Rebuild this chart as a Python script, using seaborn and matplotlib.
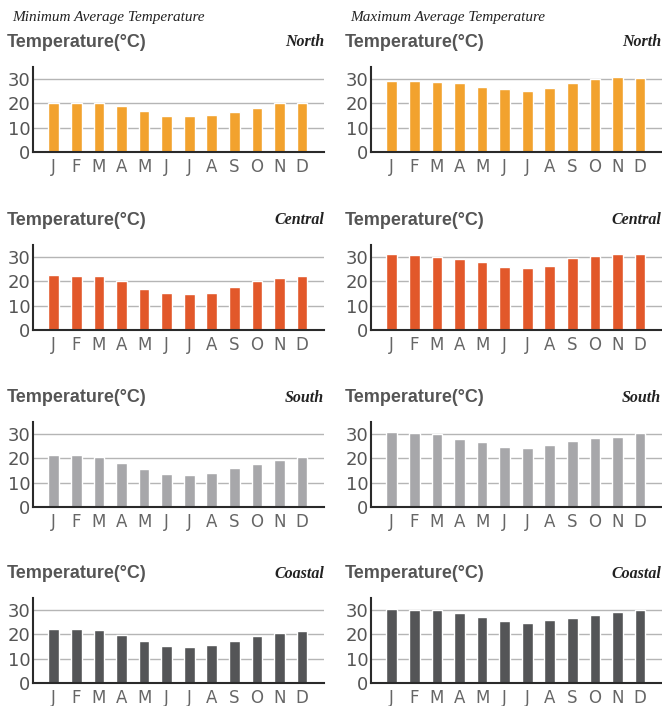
import matplotlib
matplotlib.use("Agg")
import matplotlib.pyplot as plt
import seaborn as sns
import pandas as pd
import numpy as np

# month categories and the single-letter tick labels
months = ['Jan', 'Feb', 'Mar', 'Apr', 'May', 'Jun', 'Jul', 'Aug', 'Sep', 'Oct', 'Nov', 'Dec']
month_letters = ['J', 'F', 'M', 'A', 'M', 'J', 'J', 'A', 'S', 'O', 'N', 'D']
regions = ['North', 'Central', 'South', 'Coastal']
y_ticks = [0, 10, 20, 30]

# minimum average temperature (°C)
min_north = [20.0, 20.0, 20.0, 19.0, 17.0, 14.9, 14.9, 15.3, 16.6, 18.2, 20.0, 20.0]
min_central = [22.7, 22.3, 22.3, 20.2, 16.9, 15.3, 14.9, 15.3, 17.7, 20.2, 21.5, 22.3]
min_south = [21.6, 21.6, 20.7, 18.3, 15.8, 13.4, 13.0, 14.2, 16.2, 17.9, 19.5, 20.7]
min_coastal = [22.3, 22.3, 21.9, 19.8, 17.3, 15.3, 14.9, 15.7, 17.3, 19.4, 20.6, 21.5]

# maximum average temperature (°C)
max_north = [29.3, 29.3, 28.9, 28.5, 26.8, 26.0, 25.2, 26.4, 28.5, 30.1, 31.0, 30.5]
max_central = [31.4, 31.0, 30.1, 29.3, 28.1, 26.0, 25.6, 26.4, 29.7, 30.5, 31.4, 31.4]
max_south = [31.0, 30.5, 30.1, 28.1, 26.9, 24.8, 24.4, 25.6, 27.3, 28.5, 28.9, 30.5]
max_coastal = [30.5, 30.1, 30.1, 28.9, 27.2, 25.6, 24.8, 26.0, 26.8, 28.1, 29.3, 30.1]

min_data = [min_north, min_central, min_south, min_coastal]
max_data = [max_north, max_central, max_south, max_coastal]

colors = {
    'North': '#F2A22E',
    'Central': '#E2582A',
    'South': '#A7A7AA',
    'Coastal': '#545557',
}

rows = []
for kind, block in [('min', min_data), ('max', max_data)]:
    for region, vals in zip(regions, block):
        for m, v in zip(months, vals):
            rows.append({'kind': kind, 'region': region, 'month': m, 'temp': v})
df = pd.DataFrame(rows)

sns.set_theme(style='white')
plt.rcParams['font.family'] = ['Liberation Sans', 'DejaVu Sans']

W, H = 662, 706
fig = plt.figure(figsize=(W / 100, H / 100), dpi=100)

# pixel layout
col_left = {'min': 33, 'max': 371}
col_width = 291
row_bottom = [152, 330, 507, 683]
ax_h = 85

header_x = {'min': 7, 'max': 345}
region_right = {'min': 324, 'max': 661}
title_x = {'min': 12, 'max': 350}
titles = {'min': 'Minimum Average Temperature', 'max': 'Maximum Average Temperature'}

serif = ['Liberation Serif', 'DejaVu Serif']

for kind in ['min', 'max']:
    fig.text(title_x[kind] / W, 1 - 18 / H, titles[kind], family=serif, style='italic',
             fontsize=11, color='#222222', ha='left', va='center')
    for i, region in enumerate(regions):
        b = row_bottom[i]
        ax = fig.add_axes([col_left[kind] / W, 1 - b / H, col_width / W, ax_h / H])
        sub = df[(df['kind'] == kind) & (df['region'] == region)]
        sns.barplot(data=sub, x='month', y='temp', order=months, color=colors[region],
                    width=0.47, saturation=1, ax=ax, zorder=3)
        ax.set_ylim(0, 35)
        ax.set_xlim(-0.92, 11.97)
        ax.set_yticks(y_ticks)
        ax.set_xticks(range(len(months)))
        ax.set_xticklabels(month_letters)
        ax.set_xlabel('')
        ax.set_ylabel('')
        for t in y_ticks[1:]:
            ax.axhline(t, color='#b5b5b5', lw=1, zorder=1)
        for s in ['top', 'right']:
            ax.spines[s].set_visible(False)
        for s in ['left', 'bottom']:
            ax.spines[s].set_color('#2a2a2a')
            ax.spines[s].set_linewidth(1.5)
        ax.spines['bottom'].set_zorder(4)
        ax.tick_params(axis='y', length=0, pad=2, labelcolor='#555555')
        ax.tick_params(axis='x', length=0, pad=4, labelcolor='#666666')
        for lab in ax.get_yticklabels():
            lab.set_family('DejaVu Sans')
            lab.set_fontsize(13)
        for lab in ax.get_xticklabels():
            lab.set_family('DejaVu Sans')
            lab.set_fontsize(12)

        top = b - ax_h
        hy = 1 - (top - 24.5) / H
        fig.text(header_x[kind] / W, hy, 'Temperature(°C)', fontsize=13, fontweight='bold',
                 color='#555555', ha='left', va='center')
        fig.text(region_right[kind] / W, hy, region, family=serif, style='italic',
                 fontweight='bold', fontsize=11.5, color='#222222', ha='right', va='center')

fig.savefig('out.png', dpi=100)
